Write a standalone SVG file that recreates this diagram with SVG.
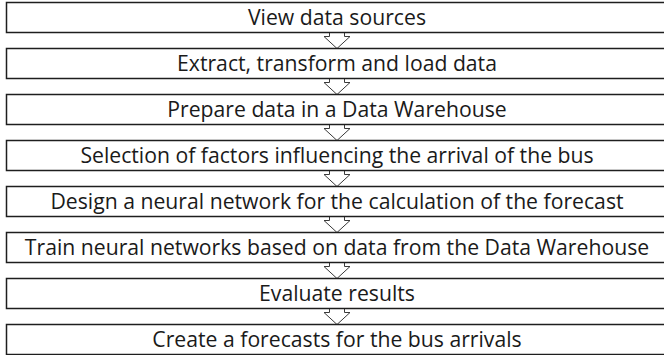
<svg xmlns="http://www.w3.org/2000/svg" width="664" height="355" viewBox="0 0 664 355">
  <style>
    .box { fill: #ffffff; stroke: #1e1e1e; stroke-width: 1.5; }
    .label { font-family: "Open Sans", "Liberation Sans", sans-serif; font-size: 21.2px; fill: #1a1a1a; text-anchor: middle; }
    .step-arrow { fill: #ffffff; stroke: #3a3a3a; stroke-width: 1; stroke-linejoin: miter; }
  </style>
  <defs>
    <!-- hollow block arrow, drawn from the bottom edge of one step down to the top of the next -->
    <path id="down-arrow" d="M -7.5 0 V 4 H -13 L 0 16 L 13 4 H 7.5 V 0"/>
  </defs>
  <rect width="664" height="355" fill="#ffffff"/>

  <g id="connectors">
    <use href="#down-arrow" class="step-arrow" x="337" y="32.5"/>
    <use href="#down-arrow" class="step-arrow" x="337" y="78.5"/>
    <use href="#down-arrow" class="step-arrow" x="337" y="124.5"/>
    <use href="#down-arrow" class="step-arrow" x="337" y="170.5"/>
    <use href="#down-arrow" class="step-arrow" x="337" y="216.5"/>
    <use href="#down-arrow" class="step-arrow" x="337" y="262.5"/>
    <use href="#down-arrow" class="step-arrow" x="337" y="308.5"/>
  </g>

  <g id="step1">
    <rect class="box" x="6.5" y="2.5" width="670" height="30"/>
    <text class="label" x="337" y="24.5">View data sources</text>
  </g>
  <g id="step2">
    <rect class="box" x="6.5" y="48.5" width="670" height="30"/>
    <text class="label" x="337" y="70.5">Extract, transform and load data</text>
  </g>
  <g id="step3">
    <rect class="box" x="6.5" y="94.5" width="670" height="30"/>
    <text class="label" x="337" y="116.5">Prepare data in a Data Warehouse</text>
  </g>
  <g id="step4">
    <rect class="box" x="6.5" y="140.5" width="670" height="30"/>
    <text class="label" x="337" y="162.5">Selection of factors influencing the arrival of the bus</text>
  </g>
  <g id="step5">
    <rect class="box" x="6.5" y="186.5" width="670" height="30"/>
    <text class="label" x="337" y="208.5">Design a neural network for the calculation of the forecast</text>
  </g>
  <g id="step6">
    <rect class="box" x="6.5" y="232.5" width="670" height="30"/>
    <text class="label" x="337" y="254.5">Train neural networks based on data from the Data Warehouse</text>
  </g>
  <g id="step7">
    <rect class="box" x="6.5" y="278.5" width="670" height="30"/>
    <text class="label" x="337" y="300.5">Evaluate results</text>
  </g>
  <g id="step8">
    <rect class="box" x="6.5" y="324.5" width="670" height="30"/>
    <text class="label" x="337" y="346.5">Create a forecasts for the bus arrivals</text>
  </g>
</svg>
